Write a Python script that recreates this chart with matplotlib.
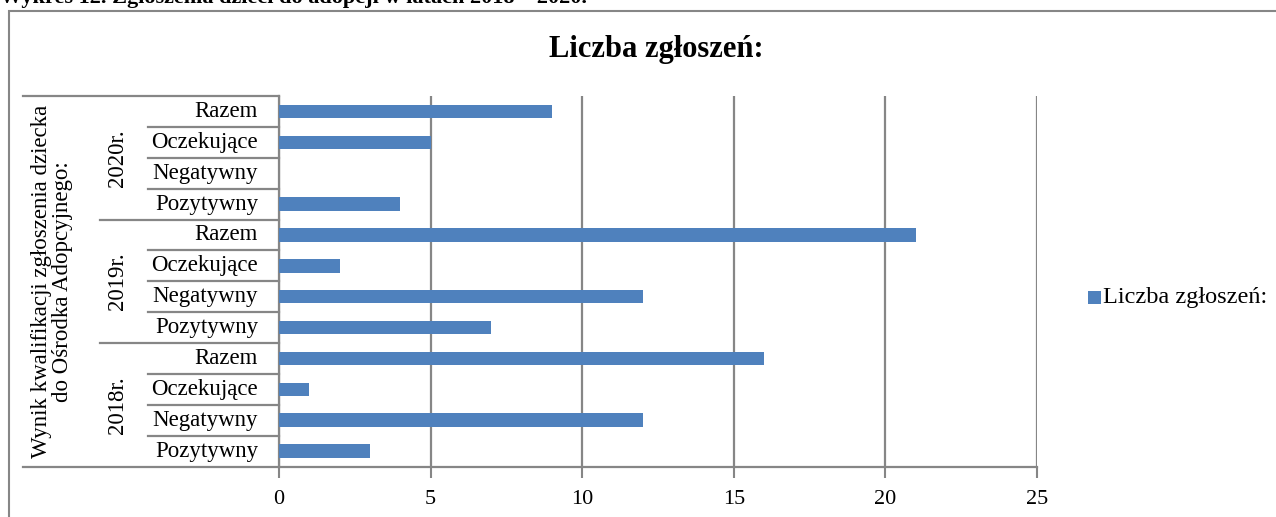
import matplotlib
matplotlib.use('Agg')
import matplotlib.pyplot as plt
from matplotlib.patches import Rectangle
from matplotlib.transforms import blended_transform_factory

plt.rcParams['font.family'] = ['Liberation Serif', 'DejaVu Serif']

# dane
YEARS = ['2018r.', '2019r.', '2020r.']
STATUS = ['Pozytywny', 'Negatywny', 'Oczekujące', 'Razem']
VALUES = {
    '2018r.': [3, 12, 1, 16],
    '2019r.': [7, 12, 2, 21],
    '2020r.': [4, 0, 5, 9],
}
XTICKS = [0, 5, 10, 15, 20, 25]
SERIES = 'Liczba zgłoszeń:'
TITLE = 'Liczba zgłoszeń:'
CAPTION = 'Wykres 12. Zgłoszenia dzieci do adopcji w latach 2018 – 2020.'
YLABEL = 'Wynik kwalifikacji zgłoszenia dziecka\ndo Ośrodka Adopcyjnego:'

BLUE = '#4F81BD'
GRID = '#868686'

W, H = 1276, 517
fig = plt.figure(figsize=(W / 100, H / 100), dpi=100)

def fx(px):
    return px / W

def fy(py):
    return 1 - py / H

ax = fig.add_axes([fx(279), fy(466.5), fx(1037) - fx(279), fy(96) - fy(466.5)])

vals = []
for yr in YEARS:
    vals += VALUES[yr]
pos = list(range(len(vals)))
ax.barh(pos, vals, height=0.44, color=BLUE, zorder=3)

ax.set_xlim(0, 25)
ax.set_ylim(-0.5, len(vals) - 0.5)
ax.set_xticks(XTICKS)
ax.set_xticklabels([str(t) for t in XTICKS], fontsize=16)
ax.set_yticks([])
ax.tick_params(axis='x', length=8, color=GRID, width=1.5, pad=9)
ax.grid(axis='x', color=GRID, lw=1.6, zorder=0)
for s in ['top', 'right']:
    ax.spines[s].set_visible(False)
for s in ['left', 'bottom']:
    ax.spines[s].set_color(GRID)
    ax.spines[s].set_linewidth(1.6)

# tabela kategorii po lewej
tr = blended_transform_factory(fig.transFigure, ax.transData)
n = len(vals)
for k in range(n + 1):
    y = k - 0.5
    if k == 0 or k == n:
        x0 = 23
    elif k % 4 == 0:
        x0 = 100
    else:
        x0 = 148
    ax.plot([fx(x0), fx(279)], [y, y], transform=tr, color=GRID, lw=1.6,
            clip_on=False, zorder=1)

for i, yr in enumerate(YEARS):
    for j, st in enumerate(STATUS):
        ax.text(fx(258), i * 4 + j, st, transform=tr, ha='right', va='center',
                fontsize=16.5)
    ax.text(fx(117), i * 4 + 1.5, yr, transform=tr, ha='center', va='center',
            rotation=90, fontsize=16.5)

ax.text(fx(52), (n - 1) / 2, YLABEL, transform=tr, ha='center', va='center',
        rotation=90, fontsize=16.5, linespacing=1.0)

# tytuł i legenda
fig.text(fx(656), fy(49), TITLE, ha='center', va='center', fontsize=22,
         fontweight='bold')
fig.patches.append(Rectangle((fx(1088), fy(304)), fx(13), 13 / H,
                             transform=fig.transFigure, facecolor=BLUE,
                             edgecolor='none'))
fig.text(fx(1103), fy(297), SERIES, ha='left', va='center', fontsize=17.5)

# ramka wykresu (ucięta po prawej i u dołu)
fig.patches.append(Rectangle((fx(9), -0.2), 1.2, fy(11) + 0.2,
                             transform=fig.transFigure, fill=False,
                             edgecolor=GRID, lw=1.5))

# podpis wykresu ucięty u góry
fig.text(0.0, fy(3), CAPTION, ha='left', va='baseline', fontsize=16,
         fontweight='bold')

fig.savefig('out.png', dpi=100)
